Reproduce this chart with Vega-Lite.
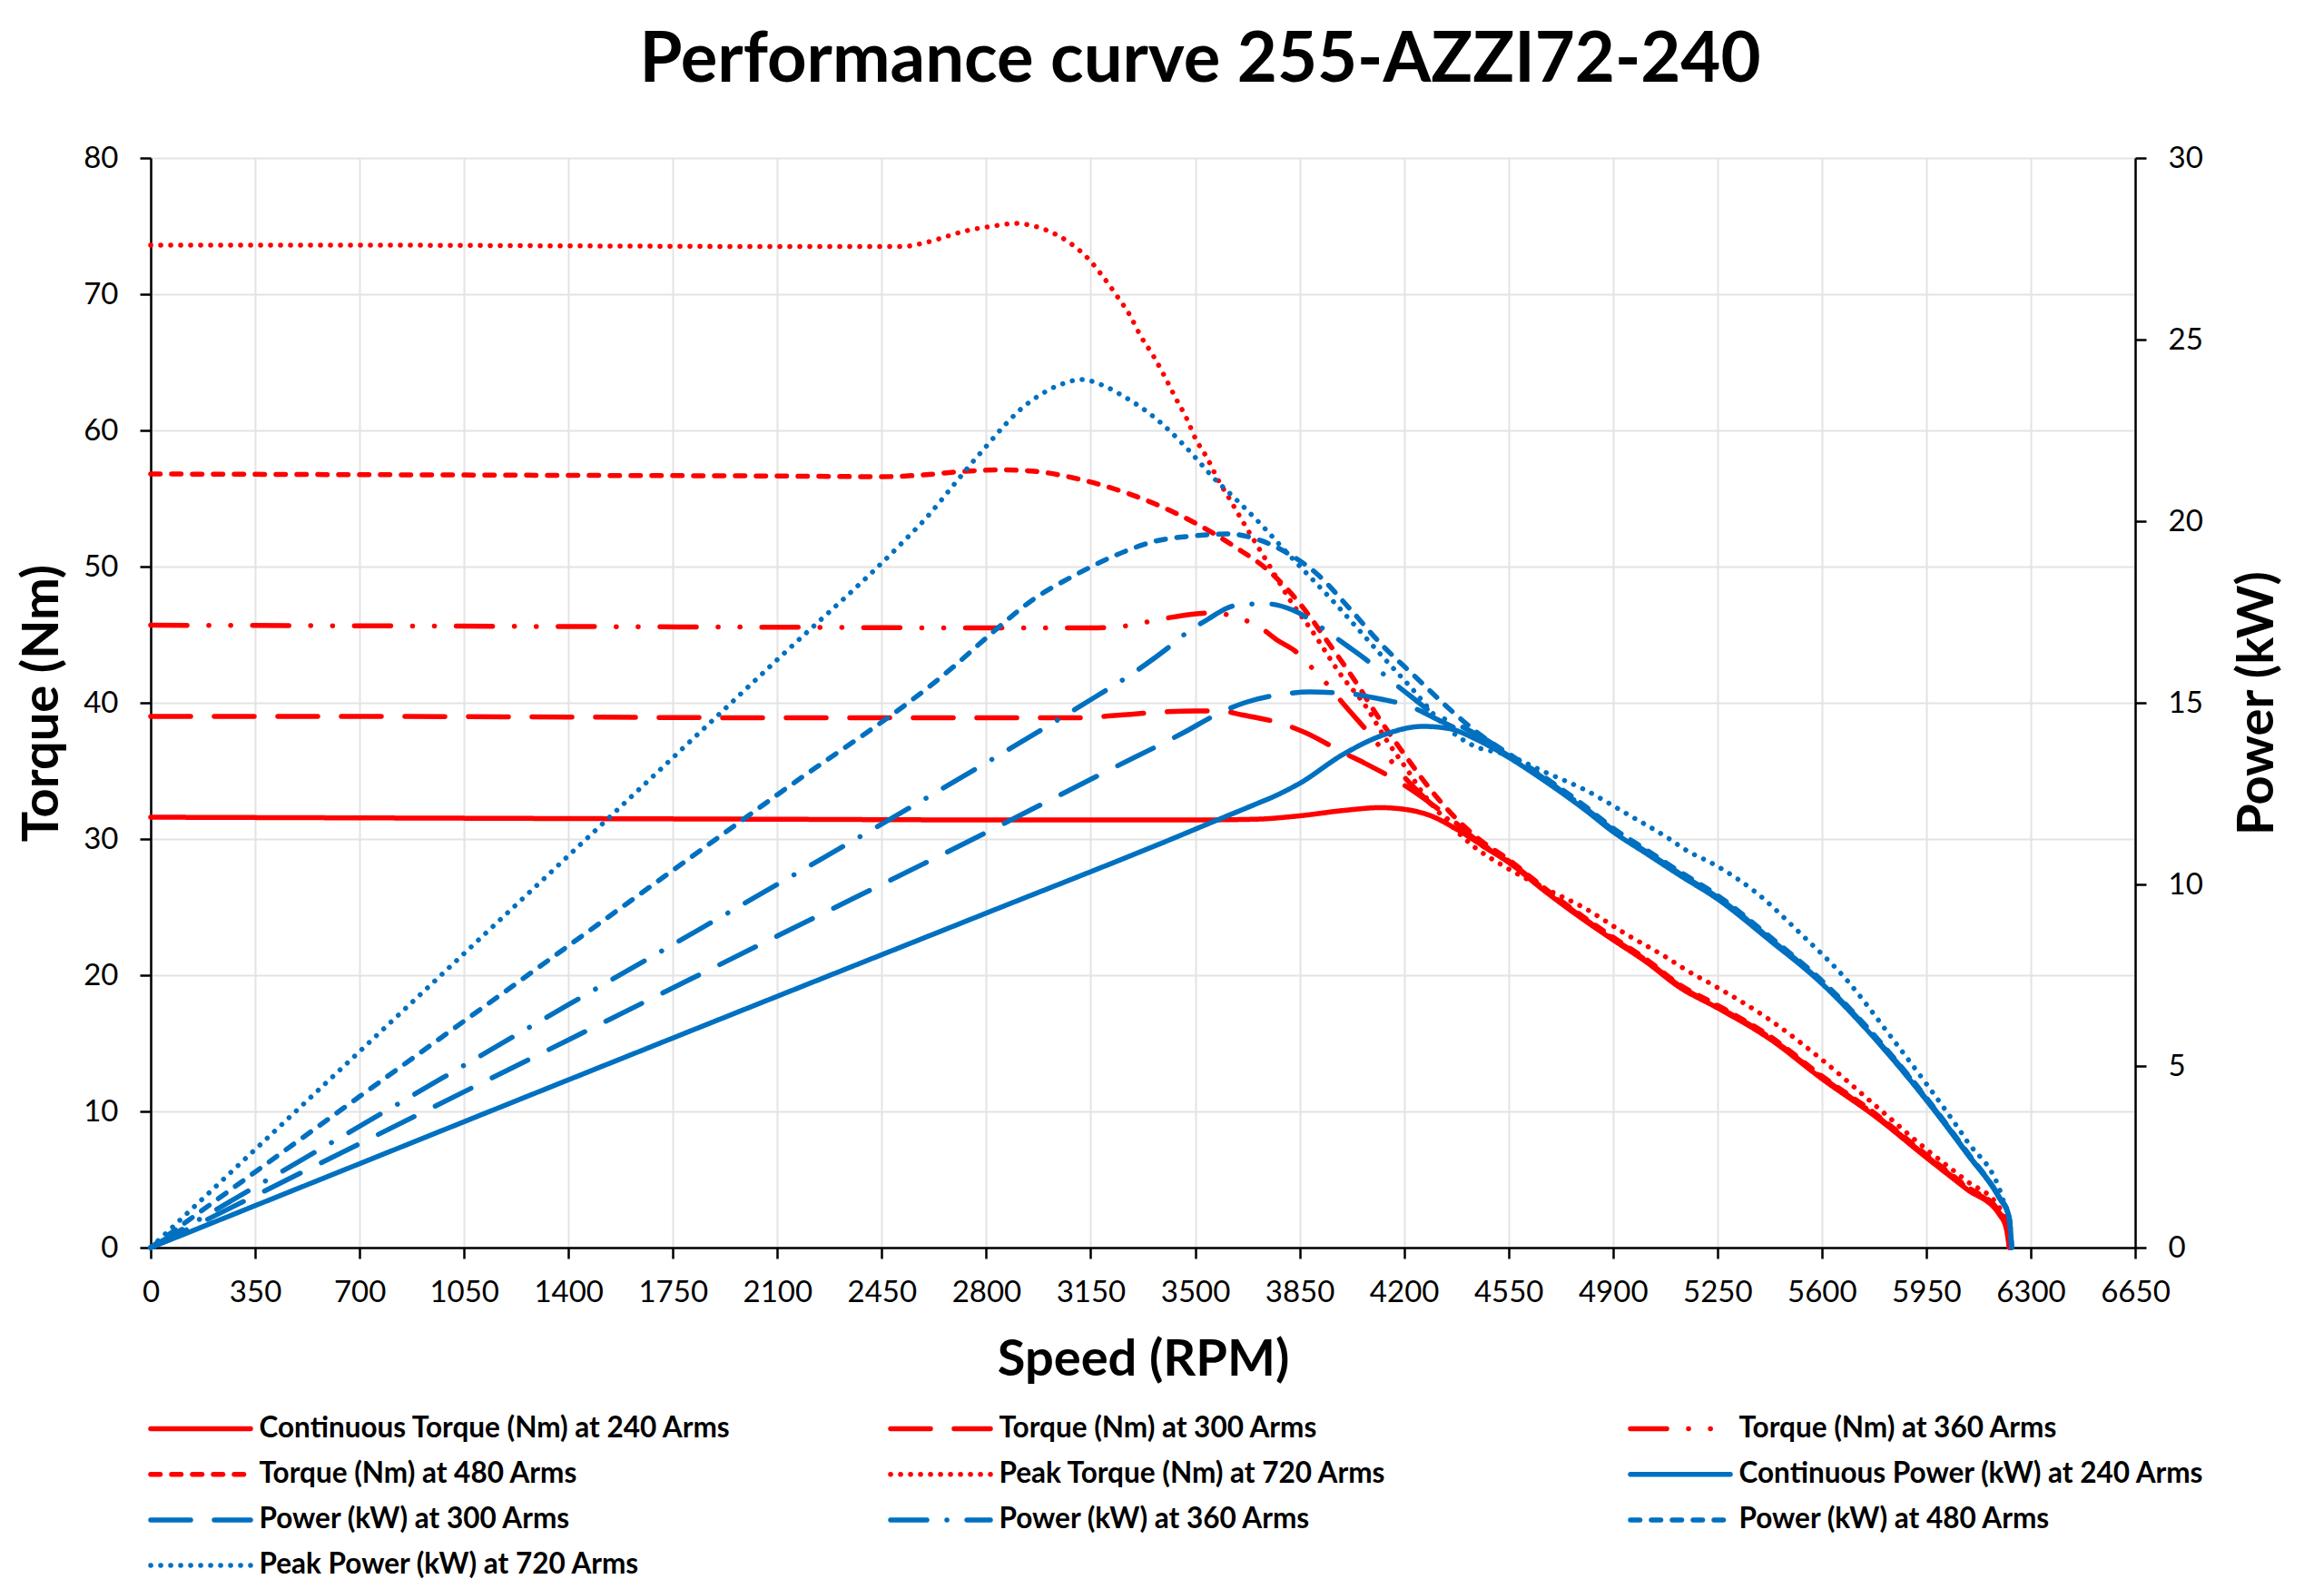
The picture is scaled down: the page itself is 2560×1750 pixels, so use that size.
{
  "$schema": "https://vega.github.io/schema/vega-lite/v6.json",
  "autosize": {"type": "none"},
  "width": 2186,
  "height": 1200,
  "padding": {"left": 166, "top": 174, "right": 208, "bottom": 376},
  "background": "white",
  "title": {
    "text": "Performance curve 255-AZZI72-240",
    "font": "Lato",
    "fontSize": 76,
    "fontWeight": "bold",
    "color": "black",
    "anchor": "middle",
    "baseline": "alphabetic",
    "offset": -8,
    "dx": 63
  },
  "config": {
    "view": {"stroke": null},
    "axis": {
      "labelFont": "Lato",
      "labelFontSize": 33,
      "labelColor": "black",
      "labelFlush": false,
      "labelOverlap": false,
      "tickColor": "black",
      "tickWidth": 2.5,
      "tickSize": 12,
      "domainColor": "black",
      "domainWidth": 2.5,
      "titleFont": "Lato",
      "titleFontSize": 56,
      "titleFontWeight": "bold",
      "titleColor": "black",
      "gridColor": "#e3e3e3",
      "gridWidth": 2
    },
    "legend": {
      "orient": "none",
      "legendX": 24.5,
      "legendY": 1369,
      "direction": "horizontal",
      "columns": 3,
      "gridAlign": "all",
      "columnPadding": 163,
      "rowPadding": 4.2,
      "padding": 0,
      "symbolType": "M-2,0H2",
      "symbolSize": 3025,
      "symbolStrokeWidth": 5.5,
      "labelFont": "Lato",
      "labelFontSize": 31.5,
      "labelFontWeight": "bold",
      "labelColor": "black",
      "labelLimit": 1000,
      "labelOffset": 34
    }
  },
  "datasets": {
    "torque": [
      {"s": "Continuous Torque (Nm) at 240 Arms", "rpm": 0, "v": 31.6},
      {"s": "Continuous Torque (Nm) at 240 Arms", "rpm": 700, "v": 31.55},
      {"s": "Continuous Torque (Nm) at 240 Arms", "rpm": 1400, "v": 31.5},
      {"s": "Continuous Torque (Nm) at 240 Arms", "rpm": 2100, "v": 31.45},
      {"s": "Continuous Torque (Nm) at 240 Arms", "rpm": 2800, "v": 31.4},
      {"s": "Continuous Torque (Nm) at 240 Arms", "rpm": 3500, "v": 31.4},
      {"s": "Continuous Torque (Nm) at 240 Arms", "rpm": 3700, "v": 31.45},
      {"s": "Continuous Torque (Nm) at 240 Arms", "rpm": 3850, "v": 31.7},
      {"s": "Continuous Torque (Nm) at 240 Arms", "rpm": 4000, "v": 32.1},
      {"s": "Continuous Torque (Nm) at 240 Arms", "rpm": 4120, "v": 32.3},
      {"s": "Continuous Torque (Nm) at 240 Arms", "rpm": 4210, "v": 32.15},
      {"s": "Continuous Torque (Nm) at 240 Arms", "rpm": 4290, "v": 31.7},
      {"s": "Continuous Torque (Nm) at 240 Arms", "rpm": 4370, "v": 30.8},
      {"s": "Continuous Torque (Nm) at 240 Arms", "rpm": 4450, "v": 29.7},
      {"s": "Continuous Torque (Nm) at 240 Arms", "rpm": 4550, "v": 28.3},
      {"s": "Continuous Torque (Nm) at 240 Arms", "rpm": 4670, "v": 26.2},
      {"s": "Continuous Torque (Nm) at 240 Arms", "rpm": 4800, "v": 24.1},
      {"s": "Continuous Torque (Nm) at 240 Arms", "rpm": 4900, "v": 22.6},
      {"s": "Continuous Torque (Nm) at 240 Arms", "rpm": 5010, "v": 21.0},
      {"s": "Continuous Torque (Nm) at 240 Arms", "rpm": 5124, "v": 19.1},
      {"s": "Continuous Torque (Nm) at 240 Arms", "rpm": 5250, "v": 17.6},
      {"s": "Continuous Torque (Nm) at 240 Arms", "rpm": 5427, "v": 15.3},
      {"s": "Continuous Torque (Nm) at 240 Arms", "rpm": 5600, "v": 12.4},
      {"s": "Continuous Torque (Nm) at 240 Arms", "rpm": 5781, "v": 9.6},
      {"s": "Continuous Torque (Nm) at 240 Arms", "rpm": 5951, "v": 6.6},
      {"s": "Continuous Torque (Nm) at 240 Arms", "rpm": 6085, "v": 4.3},
      {"s": "Continuous Torque (Nm) at 240 Arms", "rpm": 6196, "v": 2.4},
      {"s": "Continuous Torque (Nm) at 240 Arms", "rpm": 6218, "v": 1.4},
      {"s": "Continuous Torque (Nm) at 240 Arms", "rpm": 6228, "v": 0},

      {"s": "Torque (Nm) at 300 Arms", "rpm": 0, "v": 39.0},
      {"s": "Torque (Nm) at 300 Arms", "rpm": 700, "v": 39.0},
      {"s": "Torque (Nm) at 300 Arms", "rpm": 1400, "v": 38.95},
      {"s": "Torque (Nm) at 300 Arms", "rpm": 2100, "v": 38.9},
      {"s": "Torque (Nm) at 300 Arms", "rpm": 2800, "v": 38.9},
      {"s": "Torque (Nm) at 300 Arms", "rpm": 3100, "v": 38.9},
      {"s": "Torque (Nm) at 300 Arms", "rpm": 3250, "v": 39.1},
      {"s": "Torque (Nm) at 300 Arms", "rpm": 3370, "v": 39.3},
      {"s": "Torque (Nm) at 300 Arms", "rpm": 3500, "v": 39.4},
      {"s": "Torque (Nm) at 300 Arms", "rpm": 3580, "v": 39.4},
      {"s": "Torque (Nm) at 300 Arms", "rpm": 3660, "v": 39.1},
      {"s": "Torque (Nm) at 300 Arms", "rpm": 3800, "v": 38.4},
      {"s": "Torque (Nm) at 300 Arms", "rpm": 3870, "v": 37.8},
      {"s": "Torque (Nm) at 300 Arms", "rpm": 4000, "v": 36.3},
      {"s": "Torque (Nm) at 300 Arms", "rpm": 4065, "v": 35.6},
      {"s": "Torque (Nm) at 300 Arms", "rpm": 4190, "v": 34.1},
      {"s": "Torque (Nm) at 300 Arms", "rpm": 4265, "v": 33.0},
      {"s": "Torque (Nm) at 300 Arms", "rpm": 4350, "v": 31.6},
      {"s": "Torque (Nm) at 300 Arms", "rpm": 4450, "v": 29.8},
      {"s": "Torque (Nm) at 300 Arms", "rpm": 4550, "v": 28.4},
      {"s": "Torque (Nm) at 300 Arms", "rpm": 4670, "v": 26.3},
      {"s": "Torque (Nm) at 300 Arms", "rpm": 4800, "v": 24.2},
      {"s": "Torque (Nm) at 300 Arms", "rpm": 4900, "v": 22.7},
      {"s": "Torque (Nm) at 300 Arms", "rpm": 5010, "v": 21.1},
      {"s": "Torque (Nm) at 300 Arms", "rpm": 5124, "v": 19.2},
      {"s": "Torque (Nm) at 300 Arms", "rpm": 5250, "v": 17.7},
      {"s": "Torque (Nm) at 300 Arms", "rpm": 5427, "v": 15.4},
      {"s": "Torque (Nm) at 300 Arms", "rpm": 5600, "v": 12.5},
      {"s": "Torque (Nm) at 300 Arms", "rpm": 5781, "v": 9.7},
      {"s": "Torque (Nm) at 300 Arms", "rpm": 5951, "v": 6.7},
      {"s": "Torque (Nm) at 300 Arms", "rpm": 6085, "v": 4.4},
      {"s": "Torque (Nm) at 300 Arms", "rpm": 6196, "v": 2.5},
      {"s": "Torque (Nm) at 300 Arms", "rpm": 6220, "v": 1.4},
      {"s": "Torque (Nm) at 300 Arms", "rpm": 6229, "v": 0},

      {"s": "Torque (Nm) at 360 Arms", "rpm": 0, "v": 45.7},
      {"s": "Torque (Nm) at 360 Arms", "rpm": 700, "v": 45.65},
      {"s": "Torque (Nm) at 360 Arms", "rpm": 1400, "v": 45.6},
      {"s": "Torque (Nm) at 360 Arms", "rpm": 2100, "v": 45.55},
      {"s": "Torque (Nm) at 360 Arms", "rpm": 2800, "v": 45.5},
      {"s": "Torque (Nm) at 360 Arms", "rpm": 3150, "v": 45.5},
      {"s": "Torque (Nm) at 360 Arms", "rpm": 3250, "v": 45.6},
      {"s": "Torque (Nm) at 360 Arms", "rpm": 3400, "v": 46.2},
      {"s": "Torque (Nm) at 360 Arms", "rpm": 3490, "v": 46.5},
      {"s": "Torque (Nm) at 360 Arms", "rpm": 3555, "v": 46.6},
      {"s": "Torque (Nm) at 360 Arms", "rpm": 3650, "v": 46.2},
      {"s": "Torque (Nm) at 360 Arms", "rpm": 3720, "v": 45.5},
      {"s": "Torque (Nm) at 360 Arms", "rpm": 3775, "v": 44.6},
      {"s": "Torque (Nm) at 360 Arms", "rpm": 3835, "v": 43.8},
      {"s": "Torque (Nm) at 360 Arms", "rpm": 3890, "v": 42.6},
      {"s": "Torque (Nm) at 360 Arms", "rpm": 3945, "v": 41.3},
      {"s": "Torque (Nm) at 360 Arms", "rpm": 3990, "v": 40.1},
      {"s": "Torque (Nm) at 360 Arms", "rpm": 4085, "v": 37.7},
      {"s": "Torque (Nm) at 360 Arms", "rpm": 4140, "v": 36.2},
      {"s": "Torque (Nm) at 360 Arms", "rpm": 4195, "v": 34.7},
      {"s": "Torque (Nm) at 360 Arms", "rpm": 4265, "v": 33.1},
      {"s": "Torque (Nm) at 360 Arms", "rpm": 4350, "v": 31.4},
      {"s": "Torque (Nm) at 360 Arms", "rpm": 4450, "v": 29.7},
      {"s": "Torque (Nm) at 360 Arms", "rpm": 4550, "v": 28.3},
      {"s": "Torque (Nm) at 360 Arms", "rpm": 4670, "v": 26.3},
      {"s": "Torque (Nm) at 360 Arms", "rpm": 4800, "v": 24.2},
      {"s": "Torque (Nm) at 360 Arms", "rpm": 4900, "v": 22.7},
      {"s": "Torque (Nm) at 360 Arms", "rpm": 5010, "v": 21.1},
      {"s": "Torque (Nm) at 360 Arms", "rpm": 5124, "v": 19.2},
      {"s": "Torque (Nm) at 360 Arms", "rpm": 5250, "v": 17.7},
      {"s": "Torque (Nm) at 360 Arms", "rpm": 5427, "v": 15.4},
      {"s": "Torque (Nm) at 360 Arms", "rpm": 5600, "v": 12.5},
      {"s": "Torque (Nm) at 360 Arms", "rpm": 5781, "v": 9.7},
      {"s": "Torque (Nm) at 360 Arms", "rpm": 5951, "v": 6.7},
      {"s": "Torque (Nm) at 360 Arms", "rpm": 6085, "v": 4.4},
      {"s": "Torque (Nm) at 360 Arms", "rpm": 6196, "v": 2.5},
      {"s": "Torque (Nm) at 360 Arms", "rpm": 6220, "v": 1.4},
      {"s": "Torque (Nm) at 360 Arms", "rpm": 6229, "v": 0},

      {"s": "Torque (Nm) at 480 Arms", "rpm": 0, "v": 56.8},
      {"s": "Torque (Nm) at 480 Arms", "rpm": 700, "v": 56.75},
      {"s": "Torque (Nm) at 480 Arms", "rpm": 1400, "v": 56.7},
      {"s": "Torque (Nm) at 480 Arms", "rpm": 2100, "v": 56.65},
      {"s": "Torque (Nm) at 480 Arms", "rpm": 2450, "v": 56.6},
      {"s": "Torque (Nm) at 480 Arms", "rpm": 2600, "v": 56.75},
      {"s": "Torque (Nm) at 480 Arms", "rpm": 2700, "v": 56.95},
      {"s": "Torque (Nm) at 480 Arms", "rpm": 2850, "v": 57.1},
      {"s": "Torque (Nm) at 480 Arms", "rpm": 2960, "v": 57.0},
      {"s": "Torque (Nm) at 480 Arms", "rpm": 3095, "v": 56.5},
      {"s": "Torque (Nm) at 480 Arms", "rpm": 3230, "v": 55.7},
      {"s": "Torque (Nm) at 480 Arms", "rpm": 3366, "v": 54.6},
      {"s": "Torque (Nm) at 480 Arms", "rpm": 3500, "v": 53.2},
      {"s": "Torque (Nm) at 480 Arms", "rpm": 3637, "v": 51.4},
      {"s": "Torque (Nm) at 480 Arms", "rpm": 3746, "v": 49.7},
      {"s": "Torque (Nm) at 480 Arms", "rpm": 3850, "v": 47.3},
      {"s": "Torque (Nm) at 480 Arms", "rpm": 3950, "v": 44.3},
      {"s": "Torque (Nm) at 480 Arms", "rpm": 4045, "v": 41.3},
      {"s": "Torque (Nm) at 480 Arms", "rpm": 4100, "v": 39.4},
      {"s": "Torque (Nm) at 480 Arms", "rpm": 4208, "v": 36.0},
      {"s": "Torque (Nm) at 480 Arms", "rpm": 4290, "v": 33.6},
      {"s": "Torque (Nm) at 480 Arms", "rpm": 4370, "v": 31.6},
      {"s": "Torque (Nm) at 480 Arms", "rpm": 4450, "v": 30.0},
      {"s": "Torque (Nm) at 480 Arms", "rpm": 4550, "v": 28.5},
      {"s": "Torque (Nm) at 480 Arms", "rpm": 4670, "v": 26.4},
      {"s": "Torque (Nm) at 480 Arms", "rpm": 4800, "v": 24.3},
      {"s": "Torque (Nm) at 480 Arms", "rpm": 4900, "v": 22.8},
      {"s": "Torque (Nm) at 480 Arms", "rpm": 5010, "v": 21.2},
      {"s": "Torque (Nm) at 480 Arms", "rpm": 5124, "v": 19.3},
      {"s": "Torque (Nm) at 480 Arms", "rpm": 5250, "v": 17.8},
      {"s": "Torque (Nm) at 480 Arms", "rpm": 5427, "v": 15.5},
      {"s": "Torque (Nm) at 480 Arms", "rpm": 5600, "v": 12.6},
      {"s": "Torque (Nm) at 480 Arms", "rpm": 5781, "v": 9.8},
      {"s": "Torque (Nm) at 480 Arms", "rpm": 5951, "v": 6.8},
      {"s": "Torque (Nm) at 480 Arms", "rpm": 6085, "v": 4.5},
      {"s": "Torque (Nm) at 480 Arms", "rpm": 6196, "v": 2.6},
      {"s": "Torque (Nm) at 480 Arms", "rpm": 6221, "v": 1.4},
      {"s": "Torque (Nm) at 480 Arms", "rpm": 6230, "v": 0},

      {"s": "Peak Torque (Nm) at 720 Arms", "rpm": 0, "v": 73.6},
      {"s": "Peak Torque (Nm) at 720 Arms", "rpm": 700, "v": 73.6},
      {"s": "Peak Torque (Nm) at 720 Arms", "rpm": 1400, "v": 73.55},
      {"s": "Peak Torque (Nm) at 720 Arms", "rpm": 2100, "v": 73.5},
      {"s": "Peak Torque (Nm) at 720 Arms", "rpm": 2520, "v": 73.5},
      {"s": "Peak Torque (Nm) at 720 Arms", "rpm": 2580, "v": 73.7},
      {"s": "Peak Torque (Nm) at 720 Arms", "rpm": 2640, "v": 74.05},
      {"s": "Peak Torque (Nm) at 720 Arms", "rpm": 2690, "v": 74.4},
      {"s": "Peak Torque (Nm) at 720 Arms", "rpm": 2742, "v": 74.7},
      {"s": "Peak Torque (Nm) at 720 Arms", "rpm": 2823, "v": 75.0},
      {"s": "Peak Torque (Nm) at 720 Arms", "rpm": 2898, "v": 75.2},
      {"s": "Peak Torque (Nm) at 720 Arms", "rpm": 2960, "v": 75.0},
      {"s": "Peak Torque (Nm) at 720 Arms", "rpm": 3013, "v": 74.6},
      {"s": "Peak Torque (Nm) at 720 Arms", "rpm": 3081, "v": 73.75},
      {"s": "Peak Torque (Nm) at 720 Arms", "rpm": 3142, "v": 72.6},
      {"s": "Peak Torque (Nm) at 720 Arms", "rpm": 3189, "v": 71.35},
      {"s": "Peak Torque (Nm) at 720 Arms", "rpm": 3237, "v": 69.9},
      {"s": "Peak Torque (Nm) at 720 Arms", "rpm": 3280, "v": 68.5},
      {"s": "Peak Torque (Nm) at 720 Arms", "rpm": 3318, "v": 66.9},
      {"s": "Peak Torque (Nm) at 720 Arms", "rpm": 3359, "v": 65.5},
      {"s": "Peak Torque (Nm) at 720 Arms", "rpm": 3397, "v": 64.0},
      {"s": "Peak Torque (Nm) at 720 Arms", "rpm": 3434, "v": 62.4},
      {"s": "Peak Torque (Nm) at 720 Arms", "rpm": 3471, "v": 60.9},
      {"s": "Peak Torque (Nm) at 720 Arms", "rpm": 3501, "v": 59.4},
      {"s": "Peak Torque (Nm) at 720 Arms", "rpm": 3542, "v": 57.9},
      {"s": "Peak Torque (Nm) at 720 Arms", "rpm": 3576, "v": 56.4},
      {"s": "Peak Torque (Nm) at 720 Arms", "rpm": 3617, "v": 54.9},
      {"s": "Peak Torque (Nm) at 720 Arms", "rpm": 3657, "v": 53.4},
      {"s": "Peak Torque (Nm) at 720 Arms", "rpm": 3698, "v": 51.9},
      {"s": "Peak Torque (Nm) at 720 Arms", "rpm": 3759, "v": 49.7},
      {"s": "Peak Torque (Nm) at 720 Arms", "rpm": 3813, "v": 47.7},
      {"s": "Peak Torque (Nm) at 720 Arms", "rpm": 3888, "v": 45.4},
      {"s": "Peak Torque (Nm) at 720 Arms", "rpm": 3990, "v": 42.0},
      {"s": "Peak Torque (Nm) at 720 Arms", "rpm": 4070, "v": 39.8},
      {"s": "Peak Torque (Nm) at 720 Arms", "rpm": 4140, "v": 37.3},
      {"s": "Peak Torque (Nm) at 720 Arms", "rpm": 4210, "v": 35.1},
      {"s": "Peak Torque (Nm) at 720 Arms", "rpm": 4265, "v": 33.3},
      {"s": "Peak Torque (Nm) at 720 Arms", "rpm": 4345, "v": 31.3},
      {"s": "Peak Torque (Nm) at 720 Arms", "rpm": 4425, "v": 29.6},
      {"s": "Peak Torque (Nm) at 720 Arms", "rpm": 4535, "v": 28.0},
      {"s": "Peak Torque (Nm) at 720 Arms", "rpm": 4670, "v": 26.4},
      {"s": "Peak Torque (Nm) at 720 Arms", "rpm": 4807, "v": 24.9},
      {"s": "Peak Torque (Nm) at 720 Arms", "rpm": 4945, "v": 23.0},
      {"s": "Peak Torque (Nm) at 720 Arms", "rpm": 5080, "v": 21.3},
      {"s": "Peak Torque (Nm) at 720 Arms", "rpm": 5144, "v": 20.4},
      {"s": "Peak Torque (Nm) at 720 Arms", "rpm": 5250, "v": 19.1},
      {"s": "Peak Torque (Nm) at 720 Arms", "rpm": 5427, "v": 16.7},
      {"s": "Peak Torque (Nm) at 720 Arms", "rpm": 5600, "v": 13.8},
      {"s": "Peak Torque (Nm) at 720 Arms", "rpm": 5781, "v": 10.4},
      {"s": "Peak Torque (Nm) at 720 Arms", "rpm": 5951, "v": 7.2},
      {"s": "Peak Torque (Nm) at 720 Arms", "rpm": 6085, "v": 4.9},
      {"s": "Peak Torque (Nm) at 720 Arms", "rpm": 6196, "v": 2.9},
      {"s": "Peak Torque (Nm) at 720 Arms", "rpm": 6222, "v": 1.3},
      {"s": "Peak Torque (Nm) at 720 Arms", "rpm": 6230, "v": 0}
    ],
    "power": [
      {"s": "Continuous Power (kW) at 240 Arms", "rpm": 0, "v": 0},
      {"s": "Continuous Power (kW) at 240 Arms", "rpm": 700, "v": 2.31},
      {"s": "Continuous Power (kW) at 240 Arms", "rpm": 1400, "v": 4.62},
      {"s": "Continuous Power (kW) at 240 Arms", "rpm": 2100, "v": 6.92},
      {"s": "Continuous Power (kW) at 240 Arms", "rpm": 2800, "v": 9.21},
      {"s": "Continuous Power (kW) at 240 Arms", "rpm": 3445, "v": 11.33},
      {"s": "Continuous Power (kW) at 240 Arms", "rpm": 3582, "v": 11.8},
      {"s": "Continuous Power (kW) at 240 Arms", "rpm": 3700, "v": 12.2},
      {"s": "Continuous Power (kW) at 240 Arms", "rpm": 3772, "v": 12.45},
      {"s": "Continuous Power (kW) at 240 Arms", "rpm": 3854, "v": 12.8},
      {"s": "Continuous Power (kW) at 240 Arms", "rpm": 3990, "v": 13.55},
      {"s": "Continuous Power (kW) at 240 Arms", "rpm": 4126, "v": 14.1},
      {"s": "Continuous Power (kW) at 240 Arms", "rpm": 4263, "v": 14.35},
      {"s": "Continuous Power (kW) at 240 Arms", "rpm": 4344, "v": 14.3},
      {"s": "Continuous Power (kW) at 240 Arms", "rpm": 4453, "v": 13.95},
      {"s": "Continuous Power (kW) at 240 Arms", "rpm": 4550, "v": 13.5},
      {"s": "Continuous Power (kW) at 240 Arms", "rpm": 4671, "v": 12.85},
      {"s": "Continuous Power (kW) at 240 Arms", "rpm": 4807, "v": 12.05},
      {"s": "Continuous Power (kW) at 240 Arms", "rpm": 4900, "v": 11.45},
      {"s": "Continuous Power (kW) at 240 Arms", "rpm": 5012, "v": 10.85},
      {"s": "Continuous Power (kW) at 240 Arms", "rpm": 5124, "v": 10.25},
      {"s": "Continuous Power (kW) at 240 Arms", "rpm": 5250, "v": 9.6},
      {"s": "Continuous Power (kW) at 240 Arms", "rpm": 5427, "v": 8.45},
      {"s": "Continuous Power (kW) at 240 Arms", "rpm": 5600, "v": 7.27},
      {"s": "Continuous Power (kW) at 240 Arms", "rpm": 5781, "v": 5.72},
      {"s": "Continuous Power (kW) at 240 Arms", "rpm": 5951, "v": 4.05},
      {"s": "Continuous Power (kW) at 240 Arms", "rpm": 6085, "v": 2.6},
      {"s": "Continuous Power (kW) at 240 Arms", "rpm": 6196, "v": 1.35},
      {"s": "Continuous Power (kW) at 240 Arms", "rpm": 6225, "v": 0.9},
      {"s": "Continuous Power (kW) at 240 Arms", "rpm": 6234, "v": 0.3},
      {"s": "Continuous Power (kW) at 240 Arms", "rpm": 6236, "v": 0},

      {"s": "Power (kW) at 300 Arms", "rpm": 0, "v": 0},
      {"s": "Power (kW) at 300 Arms", "rpm": 700, "v": 2.86},
      {"s": "Power (kW) at 300 Arms", "rpm": 1400, "v": 5.72},
      {"s": "Power (kW) at 300 Arms", "rpm": 2100, "v": 8.58},
      {"s": "Power (kW) at 300 Arms", "rpm": 2800, "v": 11.43},
      {"s": "Power (kW) at 300 Arms", "rpm": 3200, "v": 13.1},
      {"s": "Power (kW) at 300 Arms", "rpm": 3466, "v": 14.2},
      {"s": "Power (kW) at 300 Arms", "rpm": 3589, "v": 14.75},
      {"s": "Power (kW) at 300 Arms", "rpm": 3665, "v": 15.0},
      {"s": "Power (kW) at 300 Arms", "rpm": 3806, "v": 15.25},
      {"s": "Power (kW) at 300 Arms", "rpm": 3881, "v": 15.3},
      {"s": "Power (kW) at 300 Arms", "rpm": 4017, "v": 15.25},
      {"s": "Power (kW) at 300 Arms", "rpm": 4092, "v": 15.15},
      {"s": "Power (kW) at 300 Arms", "rpm": 4235, "v": 14.85},
      {"s": "Power (kW) at 300 Arms", "rpm": 4297, "v": 14.6},
      {"s": "Power (kW) at 300 Arms", "rpm": 4360, "v": 14.35},
      {"s": "Power (kW) at 300 Arms", "rpm": 4453, "v": 14.0},
      {"s": "Power (kW) at 300 Arms", "rpm": 4550, "v": 13.55},
      {"s": "Power (kW) at 300 Arms", "rpm": 4671, "v": 12.9},
      {"s": "Power (kW) at 300 Arms", "rpm": 4807, "v": 12.1},
      {"s": "Power (kW) at 300 Arms", "rpm": 4900, "v": 11.5},
      {"s": "Power (kW) at 300 Arms", "rpm": 5012, "v": 10.9},
      {"s": "Power (kW) at 300 Arms", "rpm": 5124, "v": 10.3},
      {"s": "Power (kW) at 300 Arms", "rpm": 5250, "v": 9.65},
      {"s": "Power (kW) at 300 Arms", "rpm": 5427, "v": 8.5},
      {"s": "Power (kW) at 300 Arms", "rpm": 5600, "v": 7.3},
      {"s": "Power (kW) at 300 Arms", "rpm": 5781, "v": 5.75},
      {"s": "Power (kW) at 300 Arms", "rpm": 5951, "v": 4.08},
      {"s": "Power (kW) at 300 Arms", "rpm": 6085, "v": 2.62},
      {"s": "Power (kW) at 300 Arms", "rpm": 6196, "v": 1.36},
      {"s": "Power (kW) at 300 Arms", "rpm": 6226, "v": 0.9},
      {"s": "Power (kW) at 300 Arms", "rpm": 6236, "v": 0},

      {"s": "Power (kW) at 360 Arms", "rpm": 0, "v": 0},
      {"s": "Power (kW) at 360 Arms", "rpm": 700, "v": 3.34},
      {"s": "Power (kW) at 360 Arms", "rpm": 1400, "v": 6.69},
      {"s": "Power (kW) at 360 Arms", "rpm": 2100, "v": 10.0},
      {"s": "Power (kW) at 360 Arms", "rpm": 2800, "v": 13.35},
      {"s": "Power (kW) at 360 Arms", "rpm": 3054, "v": 14.6},
      {"s": "Power (kW) at 360 Arms", "rpm": 3163, "v": 15.15},
      {"s": "Power (kW) at 360 Arms", "rpm": 3298, "v": 15.85},
      {"s": "Power (kW) at 360 Arms", "rpm": 3407, "v": 16.5},
      {"s": "Power (kW) at 360 Arms", "rpm": 3475, "v": 16.95},
      {"s": "Power (kW) at 360 Arms", "rpm": 3543, "v": 17.3},
      {"s": "Power (kW) at 360 Arms", "rpm": 3605, "v": 17.6},
      {"s": "Power (kW) at 360 Arms", "rpm": 3665, "v": 17.72},
      {"s": "Power (kW) at 360 Arms", "rpm": 3746, "v": 17.72},
      {"s": "Power (kW) at 360 Arms", "rpm": 3828, "v": 17.55},
      {"s": "Power (kW) at 360 Arms", "rpm": 3936, "v": 17.0},
      {"s": "Power (kW) at 360 Arms", "rpm": 4004, "v": 16.6},
      {"s": "Power (kW) at 360 Arms", "rpm": 4071, "v": 16.2},
      {"s": "Power (kW) at 360 Arms", "rpm": 4173, "v": 15.5},
      {"s": "Power (kW) at 360 Arms", "rpm": 4235, "v": 15.1},
      {"s": "Power (kW) at 360 Arms", "rpm": 4290, "v": 14.75},
      {"s": "Power (kW) at 360 Arms", "rpm": 4380, "v": 14.4},
      {"s": "Power (kW) at 360 Arms", "rpm": 4460, "v": 14.05},
      {"s": "Power (kW) at 360 Arms", "rpm": 4550, "v": 13.6},
      {"s": "Power (kW) at 360 Arms", "rpm": 4671, "v": 12.9},
      {"s": "Power (kW) at 360 Arms", "rpm": 4807, "v": 12.1},
      {"s": "Power (kW) at 360 Arms", "rpm": 4900, "v": 11.5},
      {"s": "Power (kW) at 360 Arms", "rpm": 5012, "v": 10.9},
      {"s": "Power (kW) at 360 Arms", "rpm": 5124, "v": 10.3},
      {"s": "Power (kW) at 360 Arms", "rpm": 5250, "v": 9.65},
      {"s": "Power (kW) at 360 Arms", "rpm": 5427, "v": 8.5},
      {"s": "Power (kW) at 360 Arms", "rpm": 5600, "v": 7.32},
      {"s": "Power (kW) at 360 Arms", "rpm": 5781, "v": 5.77},
      {"s": "Power (kW) at 360 Arms", "rpm": 5951, "v": 4.1},
      {"s": "Power (kW) at 360 Arms", "rpm": 6085, "v": 2.63},
      {"s": "Power (kW) at 360 Arms", "rpm": 6196, "v": 1.37},
      {"s": "Power (kW) at 360 Arms", "rpm": 6226, "v": 0.9},
      {"s": "Power (kW) at 360 Arms", "rpm": 6236, "v": 0},

      {"s": "Power (kW) at 480 Arms", "rpm": 0, "v": 0},
      {"s": "Power (kW) at 480 Arms", "rpm": 700, "v": 4.16},
      {"s": "Power (kW) at 480 Arms", "rpm": 1400, "v": 8.31},
      {"s": "Power (kW) at 480 Arms", "rpm": 2100, "v": 12.47},
      {"s": "Power (kW) at 480 Arms", "rpm": 2687, "v": 15.97},
      {"s": "Power (kW) at 480 Arms", "rpm": 2823, "v": 16.95},
      {"s": "Power (kW) at 480 Arms", "rpm": 2958, "v": 17.85},
      {"s": "Power (kW) at 480 Arms", "rpm": 3094, "v": 18.5},
      {"s": "Power (kW) at 480 Arms", "rpm": 3230, "v": 19.05},
      {"s": "Power (kW) at 480 Arms", "rpm": 3366, "v": 19.45},
      {"s": "Power (kW) at 480 Arms", "rpm": 3501, "v": 19.6},
      {"s": "Power (kW) at 480 Arms", "rpm": 3610, "v": 19.65},
      {"s": "Power (kW) at 480 Arms", "rpm": 3719, "v": 19.47},
      {"s": "Power (kW) at 480 Arms", "rpm": 3814, "v": 19.1},
      {"s": "Power (kW) at 480 Arms", "rpm": 3908, "v": 18.55},
      {"s": "Power (kW) at 480 Arms", "rpm": 4017, "v": 17.6},
      {"s": "Power (kW) at 480 Arms", "rpm": 4125, "v": 16.6},
      {"s": "Power (kW) at 480 Arms", "rpm": 4240, "v": 15.7},
      {"s": "Power (kW) at 480 Arms", "rpm": 4356, "v": 14.8},
      {"s": "Power (kW) at 480 Arms", "rpm": 4450, "v": 14.15},
      {"s": "Power (kW) at 480 Arms", "rpm": 4550, "v": 13.6},
      {"s": "Power (kW) at 480 Arms", "rpm": 4671, "v": 12.95},
      {"s": "Power (kW) at 480 Arms", "rpm": 4807, "v": 12.15},
      {"s": "Power (kW) at 480 Arms", "rpm": 4900, "v": 11.55},
      {"s": "Power (kW) at 480 Arms", "rpm": 5012, "v": 10.95},
      {"s": "Power (kW) at 480 Arms", "rpm": 5124, "v": 10.35},
      {"s": "Power (kW) at 480 Arms", "rpm": 5250, "v": 9.7},
      {"s": "Power (kW) at 480 Arms", "rpm": 5427, "v": 8.55},
      {"s": "Power (kW) at 480 Arms", "rpm": 5600, "v": 7.35},
      {"s": "Power (kW) at 480 Arms", "rpm": 5781, "v": 5.8},
      {"s": "Power (kW) at 480 Arms", "rpm": 5951, "v": 4.12},
      {"s": "Power (kW) at 480 Arms", "rpm": 6085, "v": 2.65},
      {"s": "Power (kW) at 480 Arms", "rpm": 6196, "v": 1.38},
      {"s": "Power (kW) at 480 Arms", "rpm": 6227, "v": 0.9},
      {"s": "Power (kW) at 480 Arms", "rpm": 6236, "v": 0},

      {"s": "Peak Power (kW) at 720 Arms", "rpm": 0, "v": 0},
      {"s": "Peak Power (kW) at 720 Arms", "rpm": 700, "v": 5.4},
      {"s": "Peak Power (kW) at 720 Arms", "rpm": 1400, "v": 10.79},
      {"s": "Peak Power (kW) at 720 Arms", "rpm": 2100, "v": 16.19},
      {"s": "Peak Power (kW) at 720 Arms", "rpm": 2520, "v": 19.42},
      {"s": "Peak Power (kW) at 720 Arms", "rpm": 2600, "v": 20.1},
      {"s": "Peak Power (kW) at 720 Arms", "rpm": 2687, "v": 20.96},
      {"s": "Peak Power (kW) at 720 Arms", "rpm": 2741, "v": 21.5},
      {"s": "Peak Power (kW) at 720 Arms", "rpm": 2804, "v": 22.1},
      {"s": "Peak Power (kW) at 720 Arms", "rpm": 2857, "v": 22.6},
      {"s": "Peak Power (kW) at 720 Arms", "rpm": 2911, "v": 23.05},
      {"s": "Peak Power (kW) at 720 Arms", "rpm": 2975, "v": 23.45},
      {"s": "Peak Power (kW) at 720 Arms", "rpm": 3045, "v": 23.75},
      {"s": "Peak Power (kW) at 720 Arms", "rpm": 3121, "v": 23.9},
      {"s": "Peak Power (kW) at 720 Arms", "rpm": 3196, "v": 23.72},
      {"s": "Peak Power (kW) at 720 Arms", "rpm": 3268, "v": 23.4},
      {"s": "Peak Power (kW) at 720 Arms", "rpm": 3333, "v": 23.05},
      {"s": "Peak Power (kW) at 720 Arms", "rpm": 3393, "v": 22.65},
      {"s": "Peak Power (kW) at 720 Arms", "rpm": 3450, "v": 22.2},
      {"s": "Peak Power (kW) at 720 Arms", "rpm": 3501, "v": 21.75},
      {"s": "Peak Power (kW) at 720 Arms", "rpm": 3555, "v": 21.25},
      {"s": "Peak Power (kW) at 720 Arms", "rpm": 3637, "v": 20.6},
      {"s": "Peak Power (kW) at 720 Arms", "rpm": 3722, "v": 19.9},
      {"s": "Peak Power (kW) at 720 Arms", "rpm": 3800, "v": 19.2},
      {"s": "Peak Power (kW) at 720 Arms", "rpm": 3881, "v": 18.5},
      {"s": "Peak Power (kW) at 720 Arms", "rpm": 3962, "v": 17.8},
      {"s": "Peak Power (kW) at 720 Arms", "rpm": 4044, "v": 17.05},
      {"s": "Peak Power (kW) at 720 Arms", "rpm": 4125, "v": 16.3},
      {"s": "Peak Power (kW) at 720 Arms", "rpm": 4220, "v": 15.45},
      {"s": "Peak Power (kW) at 720 Arms", "rpm": 4345, "v": 14.3},
      {"s": "Peak Power (kW) at 720 Arms", "rpm": 4425, "v": 13.85},
      {"s": "Peak Power (kW) at 720 Arms", "rpm": 4550, "v": 13.55},
      {"s": "Peak Power (kW) at 720 Arms", "rpm": 4670, "v": 13.1},
      {"s": "Peak Power (kW) at 720 Arms", "rpm": 4807, "v": 12.6},
      {"s": "Peak Power (kW) at 720 Arms", "rpm": 4945, "v": 11.95},
      {"s": "Peak Power (kW) at 720 Arms", "rpm": 5080, "v": 11.3},
      {"s": "Peak Power (kW) at 720 Arms", "rpm": 5144, "v": 10.95},
      {"s": "Peak Power (kW) at 720 Arms", "rpm": 5250, "v": 10.5},
      {"s": "Peak Power (kW) at 720 Arms", "rpm": 5376, "v": 9.8},
      {"s": "Peak Power (kW) at 720 Arms", "rpm": 5528, "v": 8.65},
      {"s": "Peak Power (kW) at 720 Arms", "rpm": 5680, "v": 7.4},
      {"s": "Peak Power (kW) at 720 Arms", "rpm": 5832, "v": 5.8},
      {"s": "Peak Power (kW) at 720 Arms", "rpm": 5951, "v": 4.5},
      {"s": "Peak Power (kW) at 720 Arms", "rpm": 6085, "v": 2.95},
      {"s": "Peak Power (kW) at 720 Arms", "rpm": 6206, "v": 1.35},
      {"s": "Peak Power (kW) at 720 Arms", "rpm": 6228, "v": 0.7},
      {"s": "Peak Power (kW) at 720 Arms", "rpm": 6237, "v": 0}
    ]
  },
  "layer": [
    {
      "data": {"name": "torque"},
      "mark": {"type": "line", "interpolate": "monotone", "strokeWidth": 5.5, "strokeCap": "round", "strokeJoin": "round"},
      "encoding": {
        "x": {
          "field": "rpm",
          "type": "quantitative",
          "scale": {"domain": [0, 6650], "nice": false},
          "axis": {
            "title": "Speed (RPM)",
            "values": [0, 350, 700, 1050, 1400, 1750, 2100, 2450, 2800, 3150, 3500, 3850, 4200, 4550, 4900, 5250, 5600, 5950, 6300, 6650],
            "format": "d",
            "grid": true,
            "labelPadding": 21,
            "titlePadding": 30
          }
        },
        "y": {
          "field": "v",
          "type": "quantitative",
          "scale": {"domain": [0, 80], "nice": false},
          "axis": {
            "title": "Torque (Nm)",
            "values": [0, 10, 20, 30, 40, 50, 60, 70, 80],
            "grid": true,
            "labelPadding": 24,
            "titlePadding": 16
          }
        },
        "color": {
          "field": "s",
          "type": "nominal",
          "title": null,
          "scale": {
            "domain": ["Continuous Torque (Nm) at 240 Arms", "Torque (Nm) at 300 Arms", "Torque (Nm) at 360 Arms", "Torque (Nm) at 480 Arms", "Peak Torque (Nm) at 720 Arms", "Continuous Power (kW) at 240 Arms", "Power (kW) at 300 Arms", "Power (kW) at 360 Arms", "Power (kW) at 480 Arms", "Peak Power (kW) at 720 Arms"],
            "range": ["#ff0000", "#ff0000", "#ff0000", "#ff0000", "#ff0000", "#0070c0", "#0070c0", "#0070c0", "#0070c0", "#0070c0"]
          },
          "legend": {
            "encode": {"symbols": {"update": {"strokeCap": {"value": "round"}}}}
          }
        },
        "strokeDash": {
          "field": "s",
          "type": "nominal",
          "title": null,
          "scale": {
            "domain": ["Continuous Torque (Nm) at 240 Arms", "Torque (Nm) at 300 Arms", "Torque (Nm) at 360 Arms", "Torque (Nm) at 480 Arms", "Peak Torque (Nm) at 720 Arms", "Continuous Power (kW) at 240 Arms", "Power (kW) at 300 Arms", "Power (kW) at 360 Arms", "Power (kW) at 480 Arms", "Peak Power (kW) at 720 Arms"],
            "range": [[1, 0], [44, 26], [40, 24, 0.1, 24, 0.1, 24], [10.5, 12.5], [0.1, 10.9], [1, 0], [44, 26], [40, 22, 0.1, 22], [10.5, 12.5], [0.1, 10.9]]
          }
        }
      }
    },
    {
      "data": {"name": "power"},
      "mark": {"type": "line", "interpolate": "monotone", "strokeWidth": 5.5, "strokeCap": "round", "strokeJoin": "round"},
      "encoding": {
        "x": {"field": "rpm", "type": "quantitative"},
        "y": {
          "field": "v",
          "type": "quantitative",
          "scale": {"domain": [0, 30], "nice": false},
          "axis": {
            "orient": "right",
            "title": "Power (kW)",
            "values": [0, 5, 10, 15, 20, 25, 30],
            "grid": false,
            "labelPadding": 24,
            "titlePadding": 33,
            "titleAngle": 270,
            "titleBaseline": "top"
          }
        },
        "color": {"field": "s", "type": "nominal"},
        "strokeDash": {"field": "s", "type": "nominal"}
      }
    }
  ],
  "resolve": {"scale": {"y": "independent"}}
}
